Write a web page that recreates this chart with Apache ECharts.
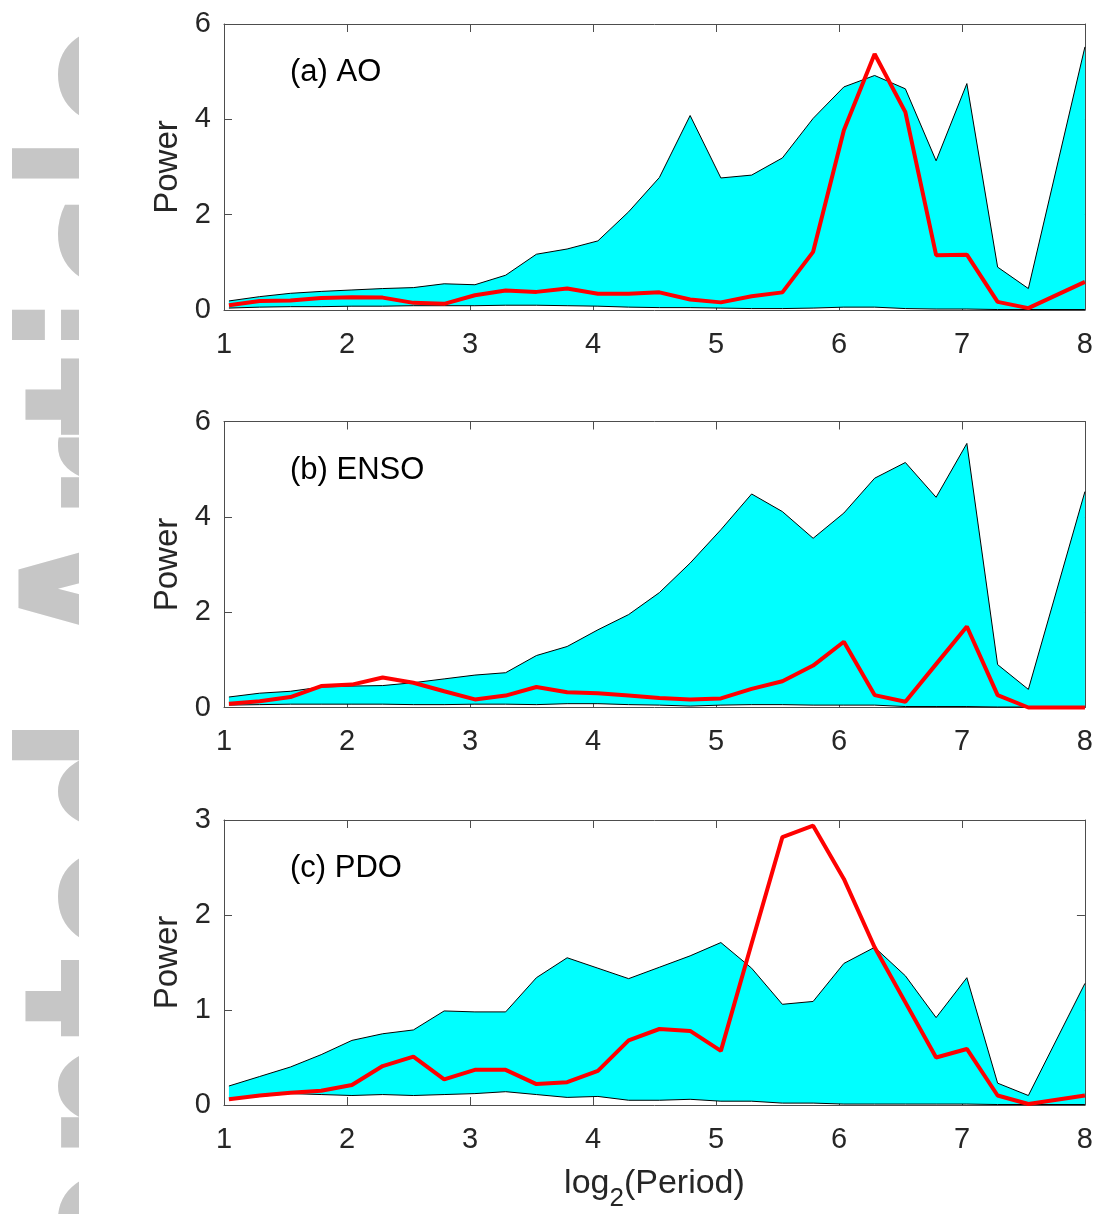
<!DOCTYPE html>
<html><head><meta charset="utf-8">
<script src="https://cdn.jsdelivr.net/npm/echarts@6/dist/echarts.min.js"></script>
<style>html,body{margin:0;padding:0;background:#fff}#c{width:1096px;height:1214px}</style>
</head><body><div id="c"></div>
<script>
// log2(Period) positions
const X = [1.04,1.29,1.54,1.79,2.04,2.29,2.54,2.79,3.04,3.29,3.54,3.79,4.04,4.29,4.54,4.79,5.04,5.29,5.54,5.79,6.04,6.29,6.54,6.79,7.04,7.29,7.54,8.00];

const AO_upper = [0.19,0.28,0.35,0.39,0.42,0.45,0.47,0.55,0.53,0.73,1.17,1.28,1.45,2.06,2.78,4.08,2.77,2.83,3.19,4.02,4.68,4.92,4.64,3.13,4.75,0.90,0.45,5.52];
const AO_lower = [0.04,0.06,0.07,0.07,0.08,0.08,0.09,0.09,0.09,0.10,0.10,0.09,0.08,0.06,0.05,0.05,0.04,0.03,0.03,0.04,0.06,0.06,0.03,0.02,0.02,0.01,0.01,0.01];
const AO_power = [0.10,0.19,0.20,0.25,0.27,0.26,0.15,0.13,0.31,0.41,0.38,0.45,0.34,0.34,0.37,0.22,0.16,0.29,0.37,1.22,3.77,5.37,4.15,1.15,1.16,0.17,0.04,0.59];

const ENSO_upper = [0.22,0.30,0.34,0.43,0.45,0.46,0.52,0.60,0.68,0.73,1.09,1.28,1.63,1.95,2.41,3.03,3.73,4.48,4.11,3.55,4.08,4.81,5.14,4.41,5.54,0.90,0.38,4.53];
const ENSO_lower = [0.05,0.06,0.07,0.07,0.07,0.07,0.06,0.06,0.07,0.07,0.06,0.08,0.08,0.06,0.05,0.03,0.05,0.06,0.06,0.05,0.05,0.05,0.02,0.02,0.02,0.01,0.01,0.01];
const ENSO_power = [0.08,0.13,0.22,0.45,0.48,0.63,0.52,0.34,0.17,0.25,0.43,0.32,0.30,0.25,0.20,0.17,0.19,0.39,0.55,0.88,1.38,0.26,0.12,0.91,1.70,0.26,0.00,0.00];

const PDO_upper = [0.20,0.30,0.40,0.53,0.68,0.75,0.79,0.99,0.98,0.98,1.34,1.55,1.44,1.33,1.45,1.57,1.71,1.44,1.06,1.09,1.49,1.66,1.36,0.92,1.34,0.23,0.10,1.28];
const PDO_lower = [0.06,0.09,0.12,0.11,0.10,0.11,0.10,0.11,0.12,0.14,0.11,0.08,0.09,0.05,0.05,0.06,0.04,0.04,0.02,0.02,0.01,0.01,0.01,0.01,0.01,0.005,0.005,0.005];
const PDO_power = [0.06,0.10,0.13,0.15,0.21,0.41,0.51,0.27,0.37,0.37,0.22,0.24,0.36,0.68,0.80,0.78,0.57,1.70,2.82,2.94,2.38,1.66,1.08,0.50,0.59,0.10,0.01,0.10];

const PANEL_LABELS = ['(a) AO', '(b) ENSO', '(c) PDO'];
const Y_MAX = [6, 6, 3];
const Y_STEP = [2, 2, 1];
const X_MIN = 1, X_MAX = 8, X_STEP = 1;

const panels = [
  {upper: AO_upper, lower: AO_lower, power: AO_power},
  {upper: ENSO_upper, lower: ENSO_lower, power: ENSO_power},
  {upper: PDO_upper, lower: PDO_lower, power: PDO_power}
];

const FONT = '"Liberation Sans", Arial, sans-serif';
const AXC = '#4d4d4d';
const TXT = '#262626';
const gridPos = [{top: 24, height: 286}, {top: 421.5, height: 286}, {top: 820, height: 285}];

const grid = [], xAxis = [], yAxis = [], series = [];
gridPos.forEach((g, i) => {
  grid.push({left: 224, width: 862, top: g.top, height: g.height, containLabel: false});
  const tick = {show: true, inside: true, length: 8, lineStyle: {color: AXC, width: 1}};
  const line = {show: true, onZero: false, lineStyle: {color: AXC, width: 1}};
  const bottomX = {
    gridIndex: i, type: 'value', position: 'bottom', min: X_MIN, max: X_MAX, interval: X_STEP,
    axisLine: line, axisTick: tick, splitLine: {show: false},
    axisLabel: {fontSize: 29, color: TXT, fontFamily: FONT, margin: 20}
  };
  if (i === 2) {
    bottomX.name = '{a|log}{s|2}{a|(Period)}';
    bottomX.nameLocation = 'middle';
    bottomX.nameGap = 51;
    bottomX.nameTextStyle = {
      rich: {
        a: {fontSize: 34, fontFamily: FONT, color: TXT},
        s: {fontSize: 26, fontFamily: FONT, color: TXT, padding: [30, 0, 0, 0]}
      }
    };
  }
  xAxis.push(bottomX);
  xAxis.push({
    gridIndex: i, type: 'value', position: 'top', min: X_MIN, max: X_MAX, interval: X_STEP,
    axisLine: line, axisTick: tick, axisLabel: {show: false}, splitLine: {show: false}
  });
  yAxis.push({
    gridIndex: i, type: 'value', position: 'left', min: 0, max: Y_MAX[i], interval: Y_STEP[i],
    axisLine: line, axisTick: tick, splitLine: {show: false},
    axisLabel: {fontSize: 29, color: TXT, fontFamily: FONT, margin: 13},
    name: 'Power', nameLocation: 'middle', nameRotate: 90, nameGap: 38,
    nameTextStyle: {fontSize: 33, color: TXT, fontFamily: FONT}
  });
  yAxis.push({
    gridIndex: i, type: 'value', position: 'right', min: 0, max: Y_MAX[i], interval: Y_STEP[i],
    axisLine: line, axisTick: tick, axisLabel: {show: false}, splitLine: {show: false}
  });

  const p = panels[i];
  const bandData = X.map((x, k) => [x, p.lower[k], p.upper[k]]);
  // cyan band between lower and upper envelopes
  series.push({
    type: 'custom', xAxisIndex: 2 * i, yAxisIndex: 2 * i, data: bandData,
    encode: {x: 0, y: [1, 2]}, z: 2, animation: false, silent: true,
    renderItem: (params, api) => {
      if (params.dataIndex !== 0) return null;
      const pts = [];
      for (let k = 0; k < X.length; k++) pts.push(api.coord([X[k], p.upper[k]]));
      for (let k = X.length - 1; k >= 0; k--) pts.push(api.coord([X[k], p.lower[k]]));
      return {type: 'polygon', shape: {points: pts}, style: {fill: '#00ffff', stroke: null}};
    }
  });
  series.push({
    type: 'line', xAxisIndex: 2 * i, yAxisIndex: 2 * i, data: X.map((x, k) => [x, p.lower[k]]),
    showSymbol: false, lineStyle: {color: '#000', width: 1}, z: 3, animation: false, silent: true
  });
  series.push({
    type: 'line', xAxisIndex: 2 * i, yAxisIndex: 2 * i, data: X.map((x, k) => [x, p.upper[k]]),
    showSymbol: false, lineStyle: {color: '#000', width: 1}, z: 3, animation: false, silent: true
  });
  series.push({
    type: 'line', xAxisIndex: 2 * i, yAxisIndex: 2 * i, data: X.map((x, k) => [x, p.power[k]]),
    showSymbol: false, lineStyle: {color: '#ff0000', width: 4}, clip: false, z: 4,
    animation: false, silent: true
  });
});

const labelY = [72, 470, 868];
const graphic = [
  {type: 'text', z: -10, x: 12, y: 17, rotation: Math.PI / 2, scaleX: 0.75, scaleY: 1,
   style: {text: 'Accepted Article', font: 'bold 230px "DejaVu Sans"', fill: '#c6c6c6', align: 'right', verticalAlign: 'top'}},
  {type: 'rect', z: -9, shape: {x: 79, y: 0, width: 1017, height: 1214}, style: {fill: '#ffffff'}}
];
PANEL_LABELS.forEach((t, i) => {
  graphic.push({type: 'text', z: 10, x: 290, y: labelY[i],
    style: {text: t, font: '31px "Liberation Sans"', fill: '#000', verticalAlign: 'middle'}});
});

const chart = echarts.init(document.getElementById('c'), null, {renderer: 'canvas'});
chart.setOption({
  backgroundColor: '#ffffff',
  animation: false,
  grid, xAxis, yAxis, series, graphic
});
</script>
</body></html>
